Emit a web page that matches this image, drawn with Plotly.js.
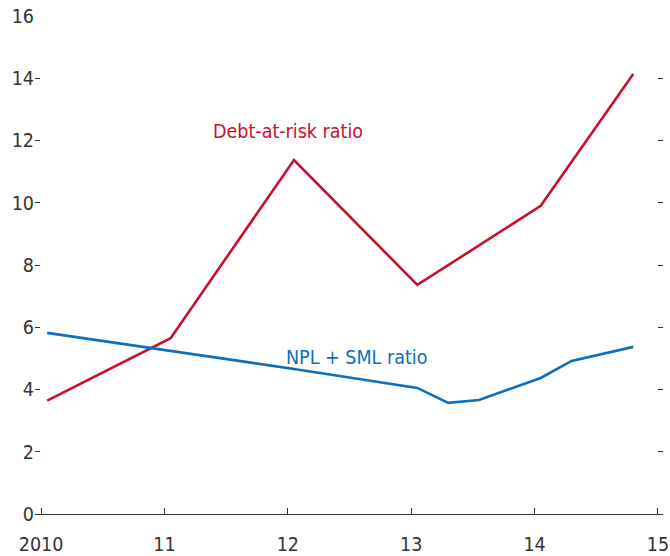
<!DOCTYPE html>
<html>
<head>
<meta charset="utf-8">
<script src="https://cdn.plot.ly/plotly-3.0.1.min.js"></script>
<style>html,body{margin:0;padding:0;background:#fff;}#chart{width:670px;height:556px;}</style>
</head>
<body>
<div id="chart"></div>
<script>
// Data
const debtX = [2010.05, 2011.05, 2012.05, 2013.05, 2014.05, 2014.8];
const debtY = [3.64, 5.65, 11.37, 7.36, 9.9, 14.14];
const nplX = [2010.05, 2011.05, 2012.05, 2013.05, 2013.3, 2013.55, 2013.8, 2014.05, 2014.3, 2014.55, 2014.8];
const nplY = [5.82, 5.24, 4.66, 4.05, 3.57, 3.66, 4.02, 4.37, 4.92, 5.14, 5.37];
const xTickVals = [2010, 2011, 2012, 2013, 2014, 2015];
const xTickText = ["2010", "11", "12", "13", "14", "15"];
const yTickVals = [0, 2, 4, 6, 8, 10, 12, 14, 16];

const FONT = '"Liberation Sans Narrow", "DejaVu Sans Condensed", "Arial Narrow", sans-serif';
const RED = '#C8102E';
const BLUE = '#0B6FBE';
const FS = 19.5;

const traces = [
  {x: debtX, y: debtY, type: 'scatter', mode: 'lines', line: {color: RED, width: 2.6}, hoverinfo: 'skip'},
  {x: nplX, y: nplY, type: 'scatter', mode: 'lines', line: {color: BLUE, width: 2.6}, hoverinfo: 'skip'},
  {x: [2012], y: [null], yaxis: 'y2', type: 'scatter', mode: 'lines', showlegend: false, hoverinfo: 'skip'}
];

const layout = {
  width: 670, height: 556,
  margin: {l: 35, r: 7, t: 16, b: 42, pad: 0},
  paper_bgcolor: '#fff', plot_bgcolor: '#fff',
  showlegend: false,
  font: {family: FONT, size: FS, color: '#333'},
  xaxis: {
    range: [2009.951, 2015.041],
    tickvals: xTickVals, ticktext: xTickText,
    ticks: 'inside', ticklen: 6, tickwidth: 1, tickcolor: '#333',
    showline: true, linecolor: '#333', linewidth: 1.3,
    showgrid: false, zeroline: false,
    ticklabelstandoff: 12,
    tickfont: {family: FONT, size: FS, color: '#333'}
  },
  yaxis: {
    range: [0, 16],
    tickvals: yTickVals,
    ticks: 'inside', ticklen: 5, tickwidth: 1, tickcolor: '#333',
    showline: false, showgrid: false, zeroline: false,
    tickfont: {family: FONT, size: FS, color: '#333'}
  },
  yaxis2: {
    range: [0, 16], overlaying: 'y', side: 'right',
    tickvals: yTickVals, showticklabels: false,
    ticks: 'inside', ticklen: 5, tickwidth: 1, tickcolor: '#333',
    showline: false, showgrid: false, zeroline: false
  },
  annotations: [
    {x: 2012.0, y: 12.3, xref: 'x', yref: 'y', text: 'Debt-at-risk ratio', showarrow: false,
     xanchor: 'center', yanchor: 'middle', font: {family: FONT, size: FS, color: RED}},
    {x: 2012.56, y: 5.04, xref: 'x', yref: 'y', text: 'NPL + SML ratio', showarrow: false,
     xanchor: 'center', yanchor: 'middle', font: {family: FONT, size: FS, color: BLUE}}
  ]
};

Plotly.newPlot('chart', traces, layout, {staticPlot: true, displayModeBar: false});
</script>
</body>
</html>
